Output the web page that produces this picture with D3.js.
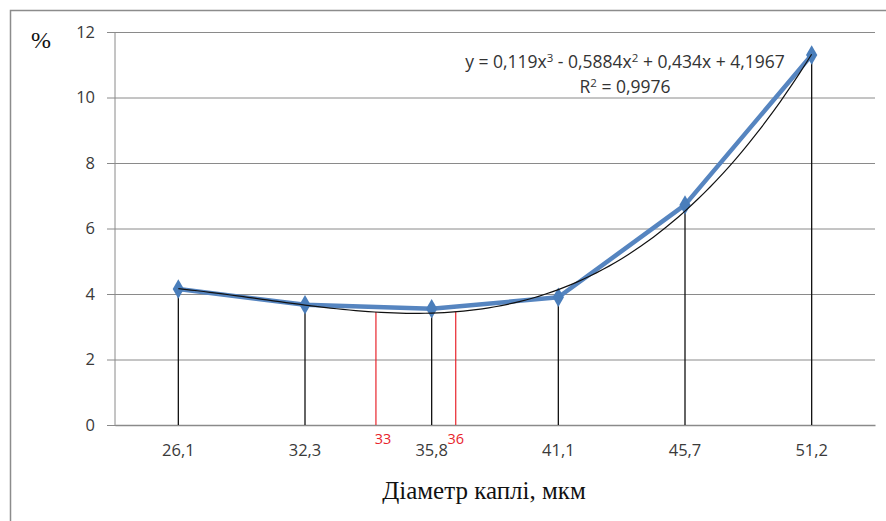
<!DOCTYPE html>
<html>
<head>
<meta charset="utf-8">
<script src="https://cdn.jsdelivr.net/npm/d3@7"></script>
<style>
  body { margin: 0; background: #fff; }
  svg { display: block; }
</style>
</head>
<body>
<svg id="chart" width="886" height="521"></svg>
<script>
// diameters (category labels) and measured values, %
var categories = ["26,1", "32,3", "35,8", "41,1", "45,7", "51,2"]
var values = [4.15, 3.67, 3.55, 3.9, 6.72, 11.3]
var yTicks = [0, 2, 4, 6, 8, 10, 12]
// cubic trend y = a*x^3 + b*x^2 + c*x + d, x = point index 1..6
var trendCoef = [0.119, -0.5884, 0.434, 4.1967]
// red marks for the interval 33..36 (position in point index units)
var markLabels = ["33", "36"]
var markPos = [2.56, 3.19]

var svg = d3.select("#chart")
var margin = {top: 32, right: 11, bottom: 96, left: 115}
var width = 886 - margin.left - margin.right,
    height = 521 - margin.top - margin.bottom

// frame
svg.append("rect")
    .attr("x", 10.5).attr("y", 10.5)
    .attr("width", 900).attr("height", 600)
    .attr("fill", "none")
    .attr("stroke", "#8c8c8c")
    .attr("stroke-width", 1.5)

var g = svg.append("g")
    .attr("transform", "translate(" + margin.left + "," + margin.top + ")")

var x = d3.scaleBand().domain(categories).range([0, width]).padding(0)
// same axis in point index units (1..6) for the trend line
var xi = d3.scaleLinear().domain([0.5, categories.length + 0.5]).range([0, width])
var y = d3.scaleLinear().domain([0, 12]).range([height, 0])

function trend(t) {
    return trendCoef[0] * t * t * t + trendCoef[1] * t * t + trendCoef[2] * t + trendCoef[3]
}

var labelFont = "'Open Sans', sans-serif"

// horizontal gridlines + y axis
var yAxis = d3.axisLeft(y).tickValues(yTicks).tickSize(-width).tickPadding(20)
    .tickFormat(d3.format("d"))
var ya = g.append("g").call(yAxis)
ya.select(".domain").remove()
ya.selectAll(".tick line")
    .attr("x1", -8)
    .attr("stroke", "#8a8a8a")
ya.selectAll(".tick text")
    .attr("fill", "#3a3a3a")
    .style("font-family", labelFont)
    .style("font-size", "16.5px")

g.append("line")
    .attr("x1", 0).attr("x2", 0)
    .attr("y1", 0).attr("y2", height)
    .attr("stroke", "#8a8a8a")

// x axis
var xAxis = d3.axisBottom(x).tickSize(0).tickPadding(19)
var xa = g.append("g").attr("transform", "translate(0," + height + ")").call(xAxis)
xa.select(".domain").attr("stroke", "#8a8a8a").attr("stroke-width", 1.5)
xa.selectAll(".tick text")
    .attr("fill", "#3a3a3a")
    .style("font-family", labelFont)
    .style("font-size", "16.5px")

// drop lines
g.selectAll(".drop").data(values).enter().append("line")
    .attr("class", "drop")
    .attr("x1", function(d, i) { return x(categories[i]) + x.bandwidth() / 2 })
    .attr("x2", function(d, i) { return x(categories[i]) + x.bandwidth() / 2 })
    .attr("y1", function(d) { return y(d) })
    .attr("y2", height)
    .attr("stroke", "#111")
    .attr("stroke-width", 1.3)

// red interval marks
g.selectAll(".mark").data(markPos).enter().append("line")
    .attr("x1", function(d) { return xi(d) })
    .attr("x2", function(d) { return xi(d) })
    .attr("y1", function(d) { return y(trend(d)) })
    .attr("y2", height)
    .attr("stroke", "#e8242c")
    .attr("stroke-width", 1.2)

g.selectAll(".markLabel").data(markLabels).enter().append("text")
    .attr("x", function(d, i) { return xi(markPos[i]) + (i == 0 ? 7 : 0) })
    .attr("y", height + 19)
    .attr("text-anchor", "middle")
    .attr("fill", "#e8242c")
    .style("font-family", labelFont)
    .style("font-size", "14.5px")
    .text(function(d) { return d })

// data series
var line = d3.line()
    .x(function(d, i) { return x(categories[i]) + x.bandwidth() / 2 })
    .y(function(d) { return y(d) })

g.append("path")
    .datum(values)
    .attr("d", line)
    .attr("fill", "none")
    .attr("stroke", "#5685c0")
    .attr("stroke-width", 4.5)
    .attr("stroke-linejoin", "round")

g.selectAll(".pt").data(values).enter().append("path")
    .attr("d", d3.symbol().type(d3.symbolDiamond).size(110))
    .attr("transform", function(d, i) {
        return "translate(" + (x(categories[i]) + x.bandwidth() / 2) + "," + y(d) + ")"
    })
    .attr("fill", "#4a7ebb")

// trend line
var tPts = d3.range(1, categories.length + 0.001, 0.05)
g.append("path")
    .datum(tPts)
    .attr("d", d3.line().x(function(t) { return xi(t) }).y(function(t) { return y(trend(t)) }))
    .attr("fill", "none")
    .attr("stroke", "#111")
    .attr("stroke-width", 1.2)

// equation
var eq = svg.append("text")
    .attr("x", 625).attr("y", 68)
    .attr("text-anchor", "middle")
    .attr("fill", "#333")
    .style("font-family", labelFont)
    .style("font-size", "17.5px")
eq.append("tspan").text("y = 0,119x")
eq.append("tspan").attr("dy", -6).style("font-size", "11.5px").text("3")
eq.append("tspan").attr("dy", 6).text(" - 0,5884x")
eq.append("tspan").attr("dy", -6).style("font-size", "11.5px").text("2")
eq.append("tspan").attr("dy", 6).text(" + 0,434x + 4,1967")

var r2 = svg.append("text")
    .attr("x", 625).attr("y", 93)
    .attr("text-anchor", "middle")
    .attr("fill", "#333")
    .style("font-family", labelFont)
    .style("font-size", "17.5px")
r2.append("tspan").text("R")
r2.append("tspan").attr("dy", -6).style("font-size", "11.5px").text("2")
r2.append("tspan").attr("dy", 6).text(" = 0,9976")

// axis titles
svg.append("text")
    .attr("x", 41).attr("y", 48)
    .attr("text-anchor", "middle")
    .style("font-family", "'Liberation Serif', serif")
    .style("font-size", "24px")
    .attr("fill", "#111")
    .text("%")

svg.append("text")
    .attr("x", 484).attr("y", 499)
    .attr("text-anchor", "middle")
    .style("font-family", "'Liberation Serif', serif")
    .style("font-size", "25px")
    .attr("fill", "#111")
    .text("Діаметр каплі, мкм")
</script>
</body>
</html>
